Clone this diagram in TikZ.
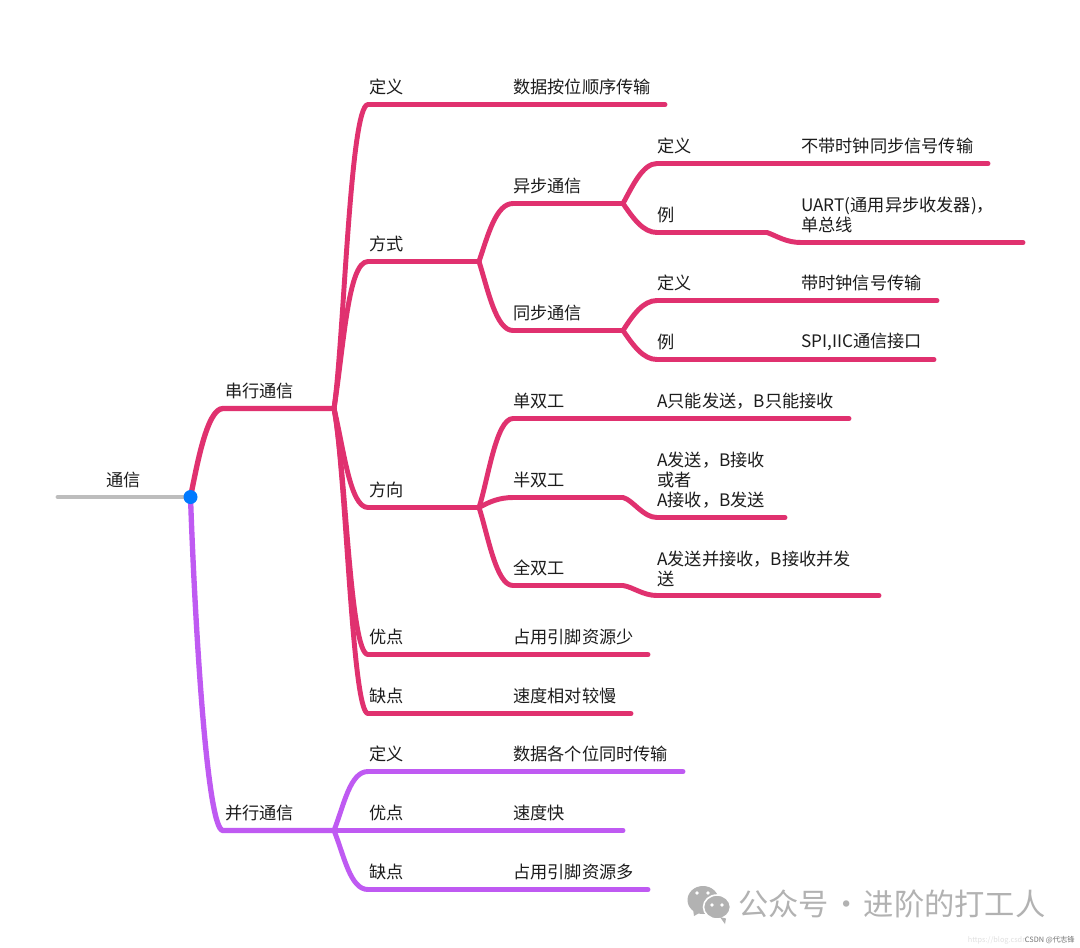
\documentclass[tikz,border=0pt]{standalone}
\usepackage{fontspec}
\setmainfont{Noto Sans CJK SC}
\definecolor{serial}{HTML}{E0316F}
\definecolor{parcol}{HTML}{BF5AF2}
\definecolor{rootgray}{HTML}{BDBDBD}
\definecolor{rootblue}{HTML}{007AFF}
\definecolor{wmgray}{HTML}{B2B2B2}
\definecolor{txt}{HTML}{1C1C1C}
\tikzset{
  x=0.75pt,y=-0.75pt,
  lab/.style={anchor=west,inner sep=0pt,font=\fontsize{12.9pt}{15pt}\selectfont,text=txt,align=left},
  br/.style={line width=3.7pt,line cap=round,line join=round},
  ser/.style={br,draw=serial},
  prl/.style={br,draw=parcol},
  wmtext/.style={anchor=west,inner sep=0pt,text=wmgray,font=\fontsize{22.7pt}{24pt}\selectfont},
}
\begin{document}
\begin{tikzpicture}
\useasboundingbox (0,0) rectangle (1080,947);
\fill[white] (0,0) rectangle (1080,947);
% junctions and line ends
\coordinate (root) at (190.5,497); \coordinate (rootEnd) at (58,497);
\coordinate (s0) at (223,408.5); \coordinate (s1) at (334,408.5);
\coordinate (p0) at (223,830.5); \coordinate (p1) at (334,830.5);
\coordinate (a0) at (368,104.5); \coordinate (a1) at (665,104.5);
\coordinate (b0) at (368,261.5); \coordinate (b1) at (479,261.5);
\coordinate (c0) at (368,507.5); \coordinate (c1) at (479,507.5);
\coordinate (d0) at (368,654.5); \coordinate (d1) at (648,654.5);
\coordinate (e0) at (368,713.5); \coordinate (e1) at (631,713.5);
\coordinate (f0) at (513,203.5); \coordinate (f1) at (623,203.5);
\coordinate (g0) at (513,330.5); \coordinate (g1) at (623,330.5);
\coordinate (h0) at (657,163.5); \coordinate (h1) at (988,163.5);
\coordinate (i0) at (657,232.5); \coordinate (i1) at (767,232.5);
\coordinate (i2) at (801,242.5); \coordinate (i3) at (1023,242.5);
\coordinate (j0) at (657,300.5); \coordinate (j1) at (937,300.5);
\coordinate (k0) at (657,359.5); \coordinate (k1) at (934,359.5);
\coordinate (l0) at (513,418.5); \coordinate (l1) at (849,418.5);
\coordinate (m0) at (513,497.5); \coordinate (m1) at (623,497.5);
\coordinate (m2) at (657,517.5); \coordinate (m3) at (785,517.5);
\coordinate (n0) at (513,585.5); \coordinate (n1) at (623,585.5);
\coordinate (n2) at (657,595.5); \coordinate (n3) at (879,595.5);
\coordinate (q0) at (368,771.5); \coordinate (q1) at (683,771.5);
\coordinate (r1) at (623,830.5);
\coordinate (t0) at (368,889.5); \coordinate (t1) at (648,889.5);
% root
\draw[br,draw=rootgray] (rootEnd) -- (root);
% serial
\draw[ser,line width=4pt] (root) .. controls (197,465) and (207,408.5) .. (s0) -- (s1);
\draw[ser] (s1) .. controls (344,340) and (350,104.5) .. (a0) -- (a1);
\draw[ser] (s1) .. controls (344,345) and (348,261.5) .. (b0) -- (b1);
\draw[ser] (s1) .. controls (344,450) and (350,507.5) .. (c0) -- (c1);
\draw[ser] (s1) .. controls (346,470) and (350,654.5) .. (d0) -- (d1);
\draw[ser] (s1) .. controls (346,470) and (352,713.5) .. (e0) -- (e1);
\draw[ser] (b1) .. controls (488,235) and (496,203.5) .. (f0) -- (f1);
\draw[ser] (b1) .. controls (488,290) and (496,330.5) .. (g0) -- (g1);
\draw[ser] (f1) .. controls (633,185) and (643,163.5) .. (h0) -- (h1);
\draw[ser] (f1) .. controls (633,218) and (643,232.5) .. (i0) -- (i1) .. controls (777,236) and (786,242.5) .. (i2) -- (i3);
\draw[ser] (g1) .. controls (633,315) and (643,300.5) .. (j0) -- (j1);
\draw[ser] (g1) .. controls (633,345) and (643,359.5) .. (k0) -- (k1);
\draw[ser] (c1) .. controls (488,480) and (496,418.5) .. (l0) -- (l1);
\draw[ser] (c1) .. controls (489,502) and (499,497.5) .. (m0) -- (m1) .. controls (633,500) and (643,517.5) .. (m2) -- (m3);
\draw[ser] (c1) .. controls (488,535) and (496,585.5) .. (n0) -- (n1) .. controls (633,587) and (643,595.5) .. (n2) -- (n3);
% parallel
\draw[prl,line width=4pt] (root) .. controls (194,600) and (206,830.5) .. (p0) -- (p1);
\draw[prl] (p1) .. controls (344,805) and (350,771.5) .. (q0) -- (q1);
\draw[prl] (p1) -- (r1);
\draw[prl] (p1) .. controls (344,855) and (350,889.5) .. (t0) -- (t1);
\node[circle,fill=rootblue,minimum size=10.5pt,inner sep=0pt] (rootdot) at (root) {};
% labels
\node[lab,anchor=center] (t1a) at (123.5,480) {通信};
\node[lab] (nS) at (225,391) {串行通信};
\node[lab] (nP) at (225,813) {并行通信};
\node[lab] (n1a) at (369,87) {定义};
\node[lab] (n1b) at (513,87) {数据按位顺序传输};
\node[lab] (n2a) at (369,244) {方式};
\node[lab] (n2b) at (513,186) {异步通信};
\node[lab] (n2c) at (657,146) {定义};
\node[lab] (n2d) at (801,146) {不带时钟同步信号传输};
\node[lab] (n2e) at (657,215) {例};
\node[lab] (n2f) at (801,215) {UART(通用异步收发器)，\\单总线};
\node[lab] (n2g) at (513,313) {同步通信};
\node[lab] (n2h) at (657,283) {定义};
\node[lab] (n2i) at (801,283) {带时钟信号传输};
\node[lab] (n2j) at (657,342) {例};
\node[lab] (n2k) at (801,342) {SPI,IIC通信接口};
\node[lab] (n3a) at (369,490) {方向};
\node[lab] (n3b) at (513,401) {单双工};
\node[lab] (n3c) at (657,401) {A只能发送，B只能接收};
\node[lab] (n3d) at (513,480) {半双工};
\node[lab] (n3e) at (657,480) {A发送，B接收\\或者\\A接收，B发送};
\node[lab] (n3f) at (513,568) {全双工};
\node[lab] (n3g) at (657,568.5) {A发送并接收，B接收并发\\送};
\node[lab] (n4a) at (369,637) {优点};
\node[lab] (n4b) at (513,637) {占用引脚资源少};
\node[lab] (n5a) at (369,696) {缺点};
\node[lab] (n5b) at (513,696) {速度相对较慢};
\node[lab] (n6a) at (369,754) {定义};
\node[lab] (n6b) at (513,754) {数据各个位同时传输};
\node[lab] (n7a) at (369,813) {优点};
\node[lab] (n7b) at (513,813) {速度快};
\node[lab] (n8a) at (369,872) {缺点};
\node[lab] (n8b) at (513,872) {占用引脚资源多};
% watermark
\fill[wmgray] (703,900) ellipse [x radius=15.5,y radius=14];
\fill[wmgray] (693,909) -- (694,916) -- (701,912) -- cycle;
\draw[white,line width=1.2pt,fill=wmgray] (717,907) ellipse [x radius=13.5,y radius=12];
\fill[wmgray] (720,917) -- (726,918.5) -- (725,924) -- cycle;
\foreach \p in {(697,893),(708,893),(712,905),(722,905)} \fill[white] \p circle [radius=1.9];
\node[wmtext] (wma) at (738,904) {公众号};
\node[wmtext,anchor=center] (wmb) at (847,908) {·};
\node[wmtext] (wmc) at (863.5,904) {进阶的打工人};
\node[anchor=east,inner sep=0pt,text=black!12,font=\fontsize{5.5pt}{6pt}\selectfont] (url) at (1027,940) {https://blog.csdn};
\node[anchor=east,inner sep=0pt,text=black!55,font=\fontsize{5.5pt}{6pt}\selectfont] (csdn) at (1075,940) {CSDN @代志锋};
\end{tikzpicture}
\end{document}
